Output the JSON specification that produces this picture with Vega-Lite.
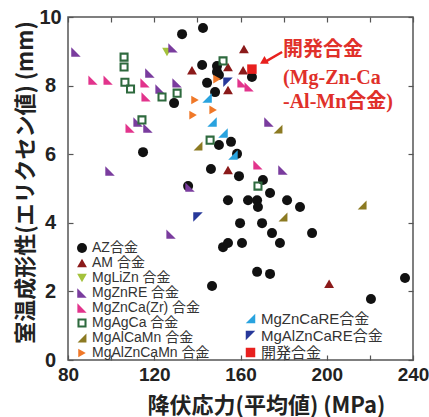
{
  "$schema": "https://vega.github.io/schema/vega-lite/v6.json",
  "width": 345,
  "height": 343,
  "autosize": "none",
  "padding": {"left": 68, "top": 17, "right": 16, "bottom": 57},
  "background": "white",
  "config": {"view": {"stroke": "#555555", "strokeWidth": 1.5}},
  "resolve": {"scale": {"color": "independent", "shape": "independent", "size": "independent"}, "axis": {"x": "independent", "y": "independent"}},
  "layer": [
    {
      "data": {"values": [
        {"alloy": "AZ合金", "x": 129.2, "y": 7.49}, {"alloy": "AZ合金", "x": 132.9, "y": 9.50}, {"alloy": "AZ合金", "x": 114.8, "y": 6.06},
        {"alloy": "AZ合金", "x": 142.6, "y": 9.68}, {"alloy": "AZ合金", "x": 142.2, "y": 8.60}, {"alloy": "AZ合金", "x": 149.1, "y": 8.57},
        {"alloy": "AZ合金", "x": 149.1, "y": 8.40}, {"alloy": "AZ合金", "x": 150.0, "y": 8.31}, {"alloy": "AZ合金", "x": 144.5, "y": 8.08},
        {"alloy": "AZ合金", "x": 165.3, "y": 8.25}, {"alloy": "AZ合金", "x": 148.2, "y": 7.81}, {"alloy": "AZ合金", "x": 150.0, "y": 6.27},
        {"alloy": "AZ合金", "x": 155.6, "y": 6.36}, {"alloy": "AZ合金", "x": 158.4, "y": 6.01}, {"alloy": "AZ合金", "x": 146.3, "y": 5.57},
        {"alloy": "AZ合金", "x": 159.3, "y": 5.36}, {"alloy": "AZ合金", "x": 170.4, "y": 5.25}, {"alloy": "AZ合金", "x": 173.7, "y": 4.87},
        {"alloy": "AZ合金", "x": 154.2, "y": 4.66}, {"alloy": "AZ合金", "x": 163.5, "y": 4.66}, {"alloy": "AZ合金", "x": 167.7, "y": 4.66},
        {"alloy": "AZ合金", "x": 168.1, "y": 4.46}, {"alloy": "AZ合金", "x": 181.6, "y": 4.66}, {"alloy": "AZ合金", "x": 159.8, "y": 3.99},
        {"alloy": "AZ合金", "x": 170.0, "y": 3.99}, {"alloy": "AZ合金", "x": 174.6, "y": 3.70}, {"alloy": "AZ合金", "x": 151.9, "y": 3.29},
        {"alloy": "AZ合金", "x": 154.2, "y": 3.41}, {"alloy": "AZ合金", "x": 160.7, "y": 3.41}, {"alloy": "AZ合金", "x": 178.3, "y": 3.41},
        {"alloy": "AZ合金", "x": 167.7, "y": 2.57}, {"alloy": "AZ合金", "x": 173.7, "y": 2.51}, {"alloy": "AZ合金", "x": 146.8, "y": 2.16},
        {"alloy": "AZ合金", "x": 187.6, "y": 4.46}, {"alloy": "AZ合金", "x": 193.2, "y": 3.70}, {"alloy": "AZ合金", "x": 236.3, "y": 2.39},
        {"alloy": "AZ合金", "x": 220.5, "y": 1.78}, {"alloy": "AZ合金", "x": 135.7, "y": 5.07},
        {"alloy": "AM 合金", "x": 161.6, "y": 9.07}, {"alloy": "AM 合金", "x": 137.5, "y": 8.45}, {"alloy": "AM 合金", "x": 154.2, "y": 8.54},
        {"alloy": "AM 合金", "x": 161.2, "y": 8.45}, {"alloy": "AM 合金", "x": 154.2, "y": 7.87}, {"alloy": "AM 合金", "x": 154.2, "y": 5.54},
        {"alloy": "AM 合金", "x": 201.1, "y": 2.22},
        {"alloy": "MgLiZn 合金", "x": 125.9, "y": 8.98},
        {"alloy": "MgZnRE 合金", "x": 83.7, "y": 8.98}, {"alloy": "MgZnRE 合金", "x": 128.7, "y": 9.10}, {"alloy": "MgZnRE 合金", "x": 118.0, "y": 8.37},
        {"alloy": "MgZnRE 合金", "x": 122.7, "y": 7.90}, {"alloy": "MgZnRE 合金", "x": 130.6, "y": 8.08}, {"alloy": "MgZnRE 合金", "x": 112.5, "y": 6.94},
        {"alloy": "MgZnRE 合金", "x": 117.1, "y": 6.76}, {"alloy": "MgZnRE 合金", "x": 99.5, "y": 5.51}, {"alloy": "MgZnRE 合金", "x": 173.2, "y": 6.94},
        {"alloy": "MgZnRE 合金", "x": 179.7, "y": 5.54}, {"alloy": "MgZnRE 合金", "x": 127.8, "y": 3.67}, {"alloy": "MgZnRE 合金", "x": 136.6, "y": 5.04},
        {"alloy": "MgZnCa(Zr) 合金", "x": 91.6, "y": 8.16}, {"alloy": "MgZnCa(Zr) 合金", "x": 98.6, "y": 8.16}, {"alloy": "MgZnCa(Zr) 合金", "x": 115.7, "y": 8.08},
        {"alloy": "MgZnCa(Zr) 合金", "x": 116.2, "y": 7.67}, {"alloy": "MgZnCa(Zr) 合金", "x": 108.8, "y": 6.76}, {"alloy": "MgZnCa(Zr) 合金", "x": 160.7, "y": 8.08},
        {"alloy": "MgZnCa(Zr) 合金", "x": 164.0, "y": 7.96}, {"alloy": "MgZnCa(Zr) 合金", "x": 168.1, "y": 5.69},
        {"alloy": "MgAgCa 合金", "x": 106.0, "y": 8.83}, {"alloy": "MgAgCa 合金", "x": 106.0, "y": 8.54}, {"alloy": "MgAgCa 合金", "x": 106.4, "y": 8.10},
        {"alloy": "MgAgCa 合金", "x": 109.0, "y": 7.90}, {"alloy": "MgAgCa 合金", "x": 123.6, "y": 7.67}, {"alloy": "MgAgCa 合金", "x": 130.6, "y": 7.78},
        {"alloy": "MgAgCa 合金", "x": 114.3, "y": 7.00}, {"alloy": "MgAgCa 合金", "x": 151.9, "y": 8.72}, {"alloy": "MgAgCa 合金", "x": 145.9, "y": 6.41},
        {"alloy": "MgAgCa 合金", "x": 168.1, "y": 5.07},
        {"alloy": "MgAlCaMn 合金", "x": 140.3, "y": 6.24}, {"alloy": "MgAlCaMn 合金", "x": 177.4, "y": 6.73}, {"alloy": "MgAlCaMn 合金", "x": 179.7, "y": 4.17},
        {"alloy": "MgAlCaMn 合金", "x": 216.4, "y": 4.52},
        {"alloy": "MgAlZnCaMn 合金", "x": 149.1, "y": 8.19}, {"alloy": "MgAlZnCaMn 合金", "x": 138.9, "y": 7.58}, {"alloy": "MgAlZnCaMn 合金", "x": 138.0, "y": 7.14},
        {"alloy": "MgAlZnCaMn 合金", "x": 147.3, "y": 7.29}
      ]},
      "mark": {"type": "point", "filled": true, "opacity": 1, "strokeWidth": 0},
      "encoding": {
        "x": {"field": "x", "type": "quantitative", "scale": {"domain": [80, 240], "nice": false, "zero": false},
          "axis": {"orient": "bottom", "values": [80, 100, 120, 140, 160, 180, 200, 220, 240],
            "labelExpr": "datum.value % 40 === 0 ? datum.label : ''", "title": "降伏応力(平均値) (MPa)",
            "domain": false, "grid": false, "tickSize": -5, "tickColor": "#555555", "tickWidth": 1.2,
            "labelFont": "Liberation Sans", "labelFontWeight": "bold", "labelFontSize": 19, "labelColor": "#222222",
            "labelPadding": 10, "labelFlush": false, "labelOverlap": false,
            "titleFont": "Noto Sans CJK JP", "titleFontSize": 22, "titleFontWeight": "bold", "titleColor": "#222222",
            "titleX": 198, "titleY": 45, "titleBaseline": "middle"}},
        "y": {"field": "y", "type": "quantitative", "scale": {"domain": [0, 10], "nice": false, "zero": false},
          "axis": {"orient": "left", "values": [0, 2, 4, 6, 8, 10], "title": "室温成形性(エリクセン値) (mm)",
            "domain": false, "grid": false, "tickSize": -5, "tickColor": "#555555", "tickWidth": 1.2,
            "labelFont": "Liberation Sans", "labelFontWeight": "bold", "labelFontSize": 20, "labelColor": "#222222",
            "labelPadding": 23, "labelAlign": "center", "labelFlush": false, "labelOverlap": false,
            "titleFont": "Noto Sans CJK JP", "titleFontSize": 22, "titleFontWeight": "bold", "titleColor": "#222222",
            "titleX": -43, "titleY": 165, "titleBaseline": "middle", "titleAlign": "center"}},
        "color": {"field": "alloy", "type": "nominal",
          "scale": {"domain": ["AZ合金", "AM 合金", "MgLiZn 合金", "MgZnRE 合金", "MgZnCa(Zr) 合金", "MgAgCa 合金", "MgAlCaMn 合金", "MgAlZnCaMn 合金"],
            "range": ["#111111", "#8b1a1a", "#a4c23c", "#7a3c9e", "#e2348c", "#2e6a3e", "#8c7a22", "#f07828"]},
          "legend": {"orient": "none", "legendX": 7, "legendY": 224, "title": null, "padding": 0, "rowPadding": 1,
            "labelFontSize": 14, "labelFont": "Liberation Sans, Noto Sans CJK JP", "labelColor": "#333333",
            "symbolSize": 80, "symbolStrokeWidth": 0, "labelOffset": 3}},
        "shape": {"field": "alloy", "type": "nominal",
          "scale": {"domain": ["AZ合金", "AM 合金", "MgLiZn 合金", "MgZnRE 合金", "MgZnCa(Zr) 合金", "MgAgCa 合金", "MgAlCaMn 合金", "MgAlZnCaMn 合金"],
            "range": ["circle", "triangle-up", "triangle-down", "M -1 -1 L 1 1 L -1 1 Z", "M -1 -1 L 1 1 L -1 1 Z",
              "M -1 -1 L 1 -1 L 1 1 L -1 1 Z M -0.55 -0.55 L -0.55 0.55 L 0.55 0.55 L 0.55 -0.55 Z",
              "M 1 -1 L 1 1 L -1 1 Z", "triangle-right"]}},
        "size": {"field": "alloy", "type": "nominal", "legend": null,
          "scale": {"domain": ["AZ合金", "AM 合金", "MgLiZn 合金", "MgZnRE 合金", "MgZnCa(Zr) 合金", "MgAgCa 合金", "MgAlCaMn 合金", "MgAlZnCaMn 合金"],
            "range": [100, 75, 75, 90, 90, 100, 90, 70]}}
      }
    },
    {
      "data": {"values": [
        {"alloy": "MgZnCaRE合金", "x": 144.5, "y": 7.64}, {"alloy": "MgZnCaRE合金", "x": 146.8, "y": 6.94},
        {"alloy": "MgZnCaRE合金", "x": 151.9, "y": 6.62}, {"alloy": "MgZnCaRE合金", "x": 156.5, "y": 5.98},
        {"alloy": "MgAlZnCaRE合金", "x": 154.2, "y": 8.10}, {"alloy": "MgAlZnCaRE合金", "x": 140.3, "y": 4.17},
        {"alloy": "開発合金", "x": 165.3, "y": 8.48}
      ]},
      "mark": {"type": "point", "filled": true, "opacity": 1, "strokeWidth": 0},
      "encoding": {
        "x": {"field": "x", "type": "quantitative", "scale": {"domain": [80, 240], "nice": false, "zero": false},
          "axis": {"orient": "top", "values": [80, 100, 120, 140, 160, 180, 200, 220, 240], "labels": false, "title": null,
            "domain": false, "grid": false, "tickSize": -5, "tickColor": "#555555", "tickWidth": 1.2}},
        "y": {"field": "y", "type": "quantitative", "scale": {"domain": [0, 10], "nice": false, "zero": false},
          "axis": {"orient": "right", "values": [0, 2, 4, 6, 8, 10], "labels": false, "title": null,
            "domain": false, "grid": false, "tickSize": -5, "tickColor": "#555555", "tickWidth": 1.2}},
        "color": {"field": "alloy", "type": "nominal",
          "scale": {"domain": ["MgZnCaRE合金", "MgAlZnCaRE合金", "開発合金"], "range": ["#29a3df", "#27389a", "#e8201e"]},
          "legend": {"orient": "none", "legendX": 175, "legendY": 294, "title": null, "padding": 0, "rowPadding": 1,
            "labelFontSize": 15, "labelFont": "Liberation Sans, Noto Sans CJK JP", "labelColor": "#333333",
            "symbolSize": 80, "symbolStrokeWidth": 0, "labelOffset": 3,
            "encode": {"labels": {"update": {"fill": {"signal": "datum.label === '開発合金' ? '#e04848' : '#333333'"}}}}}},
        "shape": {"field": "alloy", "type": "nominal",
          "scale": {"domain": ["MgZnCaRE合金", "MgAlZnCaRE合金", "開発合金"],
            "range": ["M 1 -1 L 1 1 L -1 1 Z", "M -1 -1 L 1 -1 L -1 1 Z", "square"]}},
        "size": {"field": "alloy", "type": "nominal", "legend": null,
          "scale": {"domain": ["MgZnCaRE合金", "MgAlZnCaRE合金", "開発合金"], "range": [90, 90, 130]}}
      }
    },
    {
      "data": {"values": [{"x1": 179.3, "y1": 8.98, "x2": 171.4, "y2": 8.69}]},
      "mark": {"type": "rule", "color": "#e8201e", "strokeWidth": 2.5},
      "encoding": {
        "x": {"field": "x1", "type": "quantitative", "scale": {"domain": [80, 240], "nice": false, "zero": false}, "axis": null},
        "x2": {"field": "x2"},
        "y": {"field": "y1", "type": "quantitative", "scale": {"domain": [0, 10], "nice": false, "zero": false}, "axis": null},
        "y2": {"field": "y2"}
      }
    },
    {
      "data": {"values": [{"x": 170.6, "y": 8.69}]},
      "mark": {"type": "point", "shape": "triangle-up", "filled": true, "color": "#e8201e", "opacity": 1, "size": 80, "angle": 240, "strokeWidth": 0},
      "encoding": {
        "x": {"field": "x", "type": "quantitative", "scale": {"domain": [80, 240], "nice": false, "zero": false}, "axis": null},
        "y": {"field": "y", "type": "quantitative", "scale": {"domain": [0, 10], "nice": false, "zero": false}, "axis": null}
      }
    },
    {
      "data": {"values": [
        {"x": 179.7, "y": 9.04, "t": "開発合金"},
        {"x": 179.7, "y": 8.22, "t": "(Mg-Zn-Ca"},
        {"x": 179.7, "y": 7.52, "t": "-Al-Mn合金)"}
      ]},
      "mark": {"type": "text", "align": "left", "baseline": "middle", "font": "Liberation Serif, Noto Sans CJK JP", "fontWeight": "bold", "fontSize": 20, "color": "#e0302a"},
      "encoding": {
        "x": {"field": "x", "type": "quantitative", "scale": {"domain": [80, 240], "nice": false, "zero": false}, "axis": null},
        "y": {"field": "y", "type": "quantitative", "scale": {"domain": [0, 10], "nice": false, "zero": false}, "axis": null},
        "text": {"field": "t", "type": "nominal"}
      }
    }
  ]
}
